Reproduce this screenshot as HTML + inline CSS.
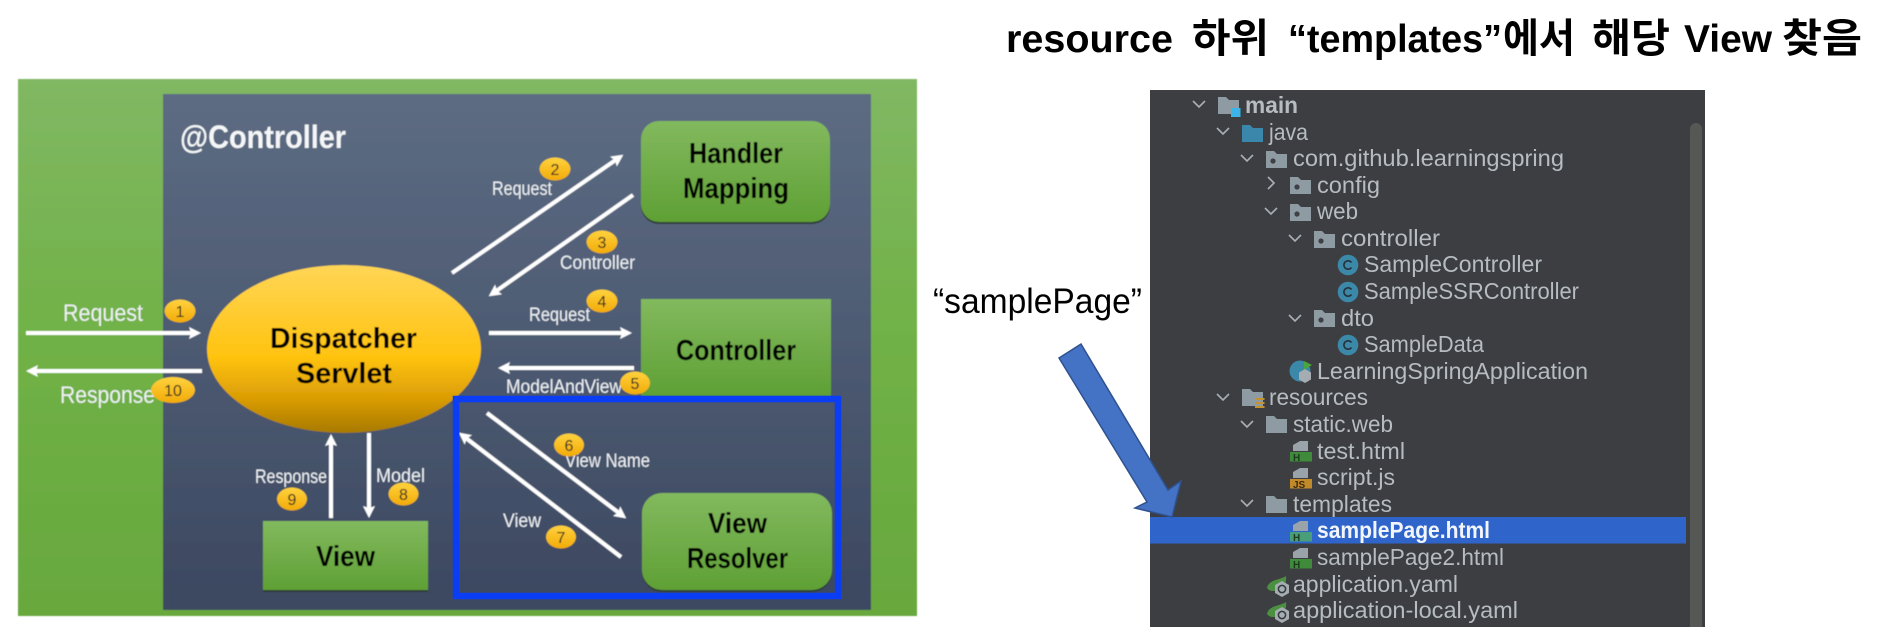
<!DOCTYPE html>
<html><head><meta charset="utf-8"><style>
html,body{margin:0;padding:0;background:#fff;width:1886px;height:635px;overflow:hidden}
svg{display:block}
text{font-family:"Liberation Sans","Noto Sans CJK KR",sans-serif}
.w{fill:#eef1f4;font-size:19px}
.wb{fill:#eef1f4;font-size:24px}
.n{fill:#000;font-weight:bold;font-size:29px}
.b{fill:#222;font-size:16px;text-anchor:middle}
.t{fill:#b6bcc0;font-size:23px}
.h{font-weight:bold;font-size:39px;fill:#000}
.k{font-weight:bold;font-size:40px;fill:#000}
</style></head><body>
<svg width="1886" height="635" viewBox="0 0 1886 635" xmlns="http://www.w3.org/2000/svg">
<defs>
<filter id="s" x="-2%" y="-2%" width="104%" height="104%"><feGaussianBlur stdDeviation="0.6"/></filter>
<filter id="s2" x="-2%" y="-2%" width="104%" height="104%"><feGaussianBlur stdDeviation="0.35"/></filter>
<linearGradient id="g1" x1="0" y1="0" x2="0" y2="1"><stop offset="0" stop-color="#81b863"/><stop offset=".5" stop-color="#70b146"/><stop offset="1" stop-color="#68a83e"/></linearGradient>
<linearGradient id="g2" x1="0" y1="0" x2="0" y2="1"><stop offset="0" stop-color="#5d6c83"/><stop offset="1" stop-color="#3c4860"/></linearGradient>
<linearGradient id="g3" x1="0" y1="0" x2="0" y2="1"><stop offset="0" stop-color="#ffd556"/><stop offset=".55" stop-color="#ffc30f"/><stop offset=".8" stop-color="#d99c05"/><stop offset="1" stop-color="#a87a02"/></linearGradient>
<linearGradient id="g4" x1="0" y1="0" x2="0" y2="1"><stop offset="0" stop-color="#82b95e"/><stop offset="1" stop-color="#5fa035"/></linearGradient>
<linearGradient id="g5" x1="0" y1="0" x2="0" y2="1"><stop offset="0" stop-color="#ffd23e"/><stop offset="1" stop-color="#f2ab08"/></linearGradient>
<marker id="a" markerUnits="userSpaceOnUse" markerWidth="14" markerHeight="14" refX="8" refY="7" orient="auto"><polygon points="0,1 12,7 0,13 2,7" fill="#fff"/></marker>
<path id="f" d="M0-8h8l3 3h10v14H0z" fill="#8f9ba3"/>
<g id="p"><use href="#f"/><circle cx="7" cy="2" r="2.6" fill="#3c3f44"/></g>
<g id="c"><circle r="10.3" fill="#3a88a8"/><path d="M3.5-2.5A4.2 4.2 0 1 0 3.5 2.500" fill="none" stroke="#26303a" stroke-width="1.6"/></g>
<g id="l"><path d="M0 3C1-3 8-5 12-6 15-7 18-8 19-9 20-3 17 3 12 5 6 7 2 6 0 3z" fill="#4c8f3f"/><path d="M15-4l7 4v8l-7 4-7-4V0z" fill="#a5adb2"/><circle cx="15" cy="4" r="3.6" fill="none" stroke="#33373b" stroke-width="1.5"/></g>
</defs>

<!-- left diagram -->
<g filter="url(#s)">
<rect x="18" y="79" width="899" height="537" fill="url(#g1)"/>
<rect x="163" y="94" width="708" height="516" fill="url(#g2)"/>
<text x="180" y="148" font-size="32" font-weight="bold" fill="#f4f6f7" textLength="166" lengthAdjust="spacingAndGlyphs">@Controller</text>

<ellipse cx="344" cy="349" rx="137" ry="84" fill="url(#g3)"/>
<rect x="641" y="123" width="189" height="101" rx="18" fill="#2f3d3a"/>
<rect x="641" y="121" width="189" height="101" rx="18" fill="url(#g4)"/>
<rect x="641" y="299" width="190" height="97" fill="url(#g4)"/>
<rect x="642" y="495" width="190" height="97" rx="20" fill="#2f3d3a"/>
<rect x="642" y="493" width="190" height="97" rx="20" fill="url(#g4)"/>
<rect x="263" y="523" width="165" height="69" fill="#2f3d3a"/>
<rect x="263" y="521" width="165" height="69" fill="url(#g4)"/>

<text class="n" x="270" y="348" textLength="147" lengthAdjust="spacingAndGlyphs">Dispatcher</text>
<text class="n" x="296" y="383" textLength="96" lengthAdjust="spacingAndGlyphs">Servlet</text>
<text class="n" x="689" y="163" textLength="94" lengthAdjust="spacingAndGlyphs">Handler</text>
<text class="n" x="683" y="198" textLength="106" lengthAdjust="spacingAndGlyphs">Mapping</text>
<text class="n" x="676" y="360" textLength="120" lengthAdjust="spacingAndGlyphs">Controller</text>
<text class="n" x="316" y="566" textLength="59" lengthAdjust="spacingAndGlyphs">View</text>
<text class="n" x="708" y="533" textLength="59" lengthAdjust="spacingAndGlyphs">View</text>
<text class="n" x="687" y="568" textLength="101" lengthAdjust="spacingAndGlyphs">Resolver</text>

<g stroke="#fff" stroke-width="4" fill="none">
<line x1="26" y1="333" x2="197" y2="333" marker-end="url(#a)"/>
<line x1="202" y1="371" x2="30" y2="371" marker-end="url(#a)"/>
<line x1="452" y1="273" x2="620" y2="157" marker-end="url(#a)"/>
<line x1="633" y1="195" x2="492" y2="294" marker-end="url(#a)"/>
<line x1="489" y1="333" x2="628" y2="333" marker-end="url(#a)"/>
<line x1="634" y1="368" x2="502" y2="368" marker-end="url(#a)"/>
<line x1="487" y1="413" x2="623" y2="516" marker-end="url(#a)"/>
<line x1="621" y1="557" x2="462" y2="435" marker-end="url(#a)"/>
<line x1="331" y1="518" x2="331" y2="438" marker-end="url(#a)"/>
<line x1="369" y1="433" x2="369" y2="514" marker-end="url(#a)"/>
</g>

<text class="wb" x="63" y="321" textLength="80" lengthAdjust="spacingAndGlyphs">Request</text>
<text class="w" x="492" y="195" textLength="60" lengthAdjust="spacingAndGlyphs">Request</text>
<text class="w" x="560" y="269" textLength="75" lengthAdjust="spacingAndGlyphs">Controller</text>
<text class="w" x="529" y="321" textLength="61" lengthAdjust="spacingAndGlyphs">Request</text>
<text class="w" x="506" y="393" textLength="116" lengthAdjust="spacingAndGlyphs">ModelAndView</text>
<text class="wb" x="60" y="403" textLength="95" lengthAdjust="spacingAndGlyphs">Response</text>
<text class="w" x="565" y="467" textLength="85" lengthAdjust="spacingAndGlyphs">View Name</text>
<text class="w" x="503" y="527" textLength="38" lengthAdjust="spacingAndGlyphs">View</text>
<text class="w" x="255" y="483" textLength="72" lengthAdjust="spacingAndGlyphs">Response</text>
<text class="w" x="376" y="482" textLength="49" lengthAdjust="spacingAndGlyphs">Model</text>

<g fill="url(#g5)">
<ellipse cx="180" cy="311" rx="15.5" ry="11.500"/>
<ellipse cx="555" cy="169" rx="15.5" ry="11.500"/>
<ellipse cx="602" cy="242" rx="15.5" ry="11.500"/>
<ellipse cx="602" cy="301" rx="15.5" ry="11.500"/>
<ellipse cx="635" cy="383" rx="15" ry="11.500"/>
<ellipse cx="173" cy="390" rx="22" ry="13"/>
<ellipse cx="569" cy="445" rx="15" ry="11.500"/>
<ellipse cx="561" cy="537" rx="15" ry="11.500"/>
<ellipse cx="403.500" cy="494" rx="15" ry="11.500"/>
<ellipse cx="292" cy="499" rx="15" ry="11.500"/>
</g>
<text class="b" x="180" y="317">1</text>
<text class="b" x="555" y="175">2</text>
<text class="b" x="602" y="248">3</text>
<text class="b" x="602" y="307">4</text>
<text class="b" x="635" y="389">5</text>
<text class="b" x="173" y="396">10</text>
<text class="b" x="569" y="451">6</text>
<text class="b" x="561" y="543">7</text>
<text class="b" x="403.500" y="500">8</text>
<text class="b" x="292" y="505">9</text>
</g>

<rect x="456" y="399" width="382" height="197" fill="none" stroke="#0b3df5" stroke-width="6.500"/>

<!-- title -->
<text class="h" x="1006" y="52" textLength="167" lengthAdjust="spacingAndGlyphs">resource</text>
<text class="k" x="1192" y="52" textLength="77" lengthAdjust="spacingAndGlyphs">하위</text>
<text class="h" x="1288" y="52" textLength="214" lengthAdjust="spacingAndGlyphs">“templates”</text>
<text class="k" x="1503" y="52" textLength="72" lengthAdjust="spacingAndGlyphs">에서</text>
<text class="k" x="1592" y="52" textLength="78" lengthAdjust="spacingAndGlyphs">해당</text>
<text class="h" x="1684" y="52" textLength="88" lengthAdjust="spacingAndGlyphs">View</text>
<text class="k" x="1782" y="52" textLength="80" lengthAdjust="spacingAndGlyphs">찾음</text>

<text x="933" y="313" font-size="35" fill="#000" textLength="209" lengthAdjust="spacingAndGlyphs">“samplePage”</text>

<!-- IDE panel -->
<rect x="1150" y="90" width="555" height="537" fill="#3c3e42"/>
<path d="M1690 627V129a6 6 0 0 1 12 0V627z" fill="#565856"/>
<rect x="1150" y="517" width="536" height="26.500" fill="#2f65ca"/>

<g filter="url(#s2)" transform="translate(-1 0)">
<g stroke="#a9b0b5" stroke-width="1.600" fill="none">
<polyline points="1194,101 1200,107 1206,101"/>
<polyline points="1218,128 1224,134 1230,128"/>
<polyline points="1242,155 1248,161 1254,155"/>
<polyline points="1269,177 1275,183 1269,189"/>
<polyline points="1266,208 1272,214 1278,208"/>
<polyline points="1290,235 1296,241 1302,235"/>
<polyline points="1290,315 1296,321 1302,315"/>
<polyline points="1218,394 1224,400 1230,394"/>
<polyline points="1242,421 1248,427 1254,421"/>
<polyline points="1242,500 1248,506 1254,500"/>
</g>

<!-- icons -->
<use href="#f" x="1219" y="105"/><rect x="1232" y="108" width="9.500" height="9" fill="#3db4e8"/>
<path d="M1243 125h8l3 3h10v14h-21z" fill="#3a87ab"/>
<use href="#p" x="1267" y="159"/>
<use href="#p" x="1291" y="185"/>
<use href="#p" x="1291" y="212"/>
<use href="#p" x="1315" y="239"/>
<use href="#c" x="1349" y="265"/>
<use href="#c" x="1349" y="292"/>
<use href="#p" x="1315" y="318"/>
<use href="#c" x="1349" y="345"/>
<circle cx="1301" cy="371" r="10.500" fill="#3a88a8"/><polygon points="1305,361 1313,365 1305,370" fill="#4aa53c"/><path d="M1306 369l6 3.500v7l-6 3.500-6-3.500v-7z" fill="#a5adb2"/>
<use href="#f" x="1243" y="397"/><g fill="#c6922f"><rect x="1256" y="398" width="9.500" height="2"/><rect x="1256" y="402" width="9.500" height="2"/><rect x="1256" y="406" width="9.500" height="2"/></g>
<use href="#f" x="1267" y="424"/>
<use href="#f" x="1267" y="504"/>
<g fill="#9aa3a9"><path d="M1294 451v-6l7-4h8v10z"/><path d="M1294 478v-6l7-4h8v10z"/><path d="M1294 531v-6l7-4h8v10z"/><path d="M1294 558v-6l7-4h8v10z"/></g>
<rect x="1291" y="452" width="22" height="9.500" fill="#3f8a3a"/>
<rect x="1291" y="479" width="22" height="9.500" fill="#c08a2c"/>
<rect x="1291" y="532" width="22" height="9.500" fill="#4a9e7a"/>
<rect x="1291" y="559" width="22" height="9.500" fill="#3f8a3a"/>
<g font-size="10" font-weight="bold" fill="#1f3a1f">
<text x="1294" y="461">H</text><text x="1294" y="488" fill="#3a2a10">JS</text><text x="1294" y="541">H</text><text x="1294" y="568">H</text>
</g>
<use href="#l" x="1268" y="585"/>
<use href="#l" x="1268" y="611"/>

<!-- tree labels -->
<text class="t" x="1246" y="113" font-weight="bold" textLength="53" lengthAdjust="spacingAndGlyphs">main</text>
<text class="t" x="1270" y="140" textLength="39" lengthAdjust="spacingAndGlyphs">java</text>
<text class="t" x="1294" y="166" textLength="271" lengthAdjust="spacingAndGlyphs">com.github.learningspring</text>
<text class="t" x="1318" y="193" textLength="63" lengthAdjust="spacingAndGlyphs">config</text>
<text class="t" x="1318" y="219" textLength="41" lengthAdjust="spacingAndGlyphs">web</text>
<text class="t" x="1342" y="246" textLength="99" lengthAdjust="spacingAndGlyphs">controller</text>
<text class="t" x="1365" y="272" textLength="178" lengthAdjust="spacingAndGlyphs">SampleController</text>
<text class="t" x="1365" y="299" textLength="215" lengthAdjust="spacingAndGlyphs">SampleSSRController</text>
<text class="t" x="1342" y="326" textLength="33" lengthAdjust="spacingAndGlyphs">dto</text>
<text class="t" x="1365" y="352" textLength="120" lengthAdjust="spacingAndGlyphs">SampleData</text>
<text class="t" x="1318" y="379" textLength="271" lengthAdjust="spacingAndGlyphs">LearningSpringApplication</text>
<text class="t" x="1270" y="405" textLength="99" lengthAdjust="spacingAndGlyphs">resources</text>
<text class="t" x="1294" y="432" textLength="100" lengthAdjust="spacingAndGlyphs">static.web</text>
<text class="t" x="1318" y="459" textLength="88" lengthAdjust="spacingAndGlyphs">test.html</text>
<text class="t" x="1318" y="485" textLength="78" lengthAdjust="spacingAndGlyphs">script.js</text>
<text class="t" x="1294" y="512" textLength="99" lengthAdjust="spacingAndGlyphs">templates</text>
<text class="t" x="1318" y="538" font-weight="bold" style="fill:#f2f5fb" textLength="173" lengthAdjust="spacingAndGlyphs">samplePage.html</text>
<text class="t" x="1318" y="565" textLength="187" lengthAdjust="spacingAndGlyphs">samplePage2.html</text>
<text class="t" x="1294" y="592" textLength="165" lengthAdjust="spacingAndGlyphs">application.yaml</text>
<text class="t" x="1294" y="618" textLength="225" lengthAdjust="spacingAndGlyphs">application-local.yaml</text>
</g>

<!-- blue arrow -->
<polygon points="1059,358 1081,344 1168,490 1181,481 1172,517 1135,508 1147,502" fill="#4472c4" stroke="#2f528f" stroke-width="1.500"/>
</svg>
</body></html>
